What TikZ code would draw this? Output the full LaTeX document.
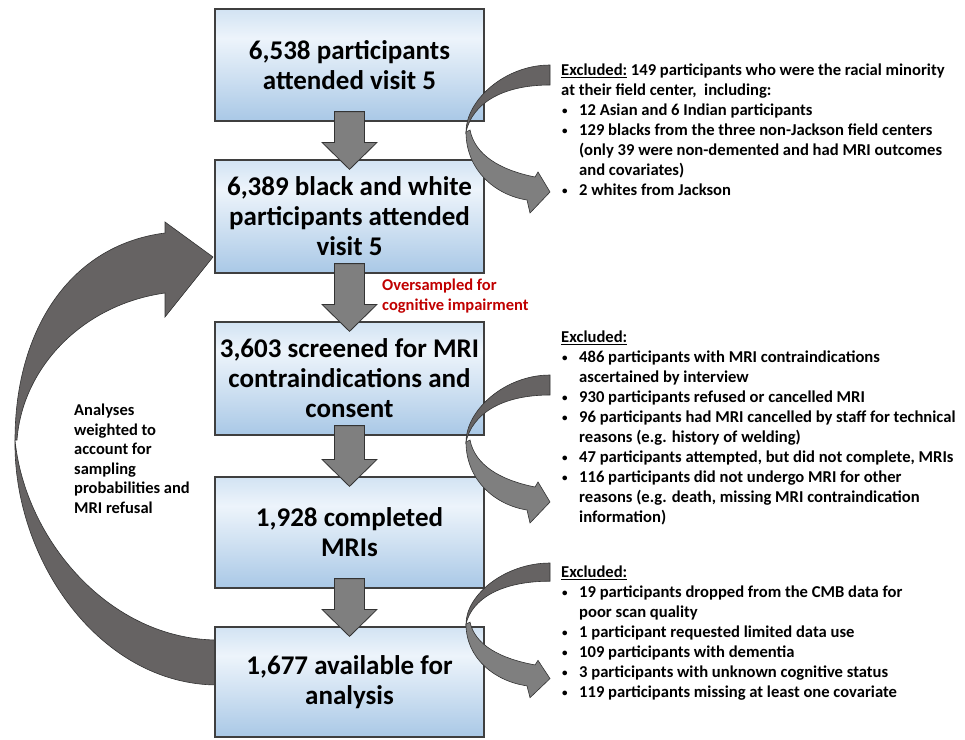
\documentclass[tikz,border=0pt]{standalone}
\usepackage{fontspec}
\setmainfont{Carlito}
\usetikzlibrary{calc}
\definecolor{boxline}{HTML}{3F3F3F}
\definecolor{boxtop}{HTML}{D2E3F3}
\definecolor{boxmid}{HTML}{EDF4FB}
\definecolor{boxbot}{HTML}{A9C8E6}
\definecolor{arrgray}{HTML}{7F7F7F}
\definecolor{arrdark}{HTML}{666363}
\definecolor{arrline}{HTML}{333333}
\definecolor{redtxt}{HTML}{C00000}
\pgfdeclareverticalshading{boxshade}{100bp}{color(0bp)=(boxbot); color(25bp)=(boxbot); color(45bp)=(boxbot!45!boxmid); color(62bp)=(boxmid); color(75bp)=(boxtop); color(100bp)=(boxtop)}
\newcommand\bul{\makebox[18pt][l]{\hspace{1pt}\raisebox{1pt}{\fontsize{11}{11}\selectfont\textbullet}}}
\newcommand\cont{\hspace*{18pt}}
\newcommand\blockarr[2]{%
  \filldraw[fill=arrgray,draw=arrline,line width=0.8pt]
    let \p1=($(#1.south)+(0,-10)$), \p2=($(#2.north)+(0,10)$) in
    (\x2-15pt,\y1) -- (\x2+15pt,\y1) -- (\x2+15pt,\y2+27pt) -- (\x2+27.5pt,\y2+27pt)
    -- (\x2,\y2) -- (\x2-27.5pt,\y2+27pt) -- (\x2-15pt,\y2+27pt) -- cycle;}
\tikzset{
  mainbox/.style={draw=boxline, line width=1.2pt, shading=boxshade,
    minimum width=269, minimum height=112, align=center, inner sep=0,
    font=\fontsize{27}{30}\selectfont\bfseries},
  note/.style={align=left, inner sep=0, anchor=north west,
    font=\fontsize{16.6}{20}\selectfont\bfseries},
  pics/exarrow/.style={code={
    \filldraw[fill=arrdark,draw=arrline,line width=0.6pt]
      (0,0) .. controls (-45,0) and (-84,35) .. (-84,67)
      .. controls (-78,40) and (-50,20) .. (0,20) -- cycle;
    \filldraw[fill=arrgray,draw=arrline,line width=0.6pt]
      (-84,67) .. controls (-84,105) and (-55,130) .. (-23,135)
      -- (-20,148) -- (0,127) -- (-12,107) -- (-15,112)
      .. controls (-50,105) and (-75,90) .. (-80,65) -- cycle;
  }}
}
\begin{document}
\begin{tikzpicture}[x=1pt,y=-1pt]
\useasboundingbox (0,0) rectangle (965,739);
% left feedback arrow
\filldraw[fill=arrdark,draw=arrline,line width=0.6pt]
  (218,685) .. controls (100,685) and (13,560) .. (15,440)
  .. controls (25,540) and (110,640) .. (218,640) -- cycle;
\filldraw[fill=arrdark,draw=arrline,line width=0.6pt]
  (15,440) .. controls (15,330) and (70,245) .. (165,233)
  -- (165,222) -- (213,257) -- (165,317) -- (165,293)
  .. controls (80,305) and (22,370) .. (17,440) -- cycle;
% boxes
\node[mainbox] (b1) at (349.5,65) {6,538 participants\\attended visit 5};
\node[mainbox,minimum height=113] (b2) at (349.5,216.5) {6,389 black and white\\participants attended\\visit 5};
\node[mainbox,minimum height=113] (b3) at (349.5,378.5) {3,603 screened for MRI\\contraindications and\\consent};
\node[mainbox,minimum height=111] (b4) at (349.5,532.5) {1,928 completed\\MRIs};
\node[mainbox,minimum height=110] (b5) at (349.5,682) {1,677 available for\\analysis};
% down arrows
\blockarr{b1}{b2}
\blockarr{b2}{b3}
\blockarr{b3}{b4}
\blockarr{b4}{b5}
% exclusion arrows
\pic at (550,65) {exarrow};
\pic at (550,375) {exarrow};
\pic[yscale=0.91] at (550,563) {exarrow};
% texts
\node[note] (exA) at (561,64) {\underline{Excluded:} 149 participants who were the racial minority\\
at their field center,\ \ including:\\
\bul 12 Asian and 6 Indian participants\\
\bul 129 blacks from the three non-Jackson field centers\\
\cont (only 39 were non-demented and had MRI outcomes\\
\cont and covariates)\\
\bul 2 whites from Jackson};
\node[note] (exB) at (561,331) {\underline{Excluded:}\\
\bul 486 participants with MRI contraindications\\
\cont ascertained by interview\\
\bul 930 participants refused or cancelled MRI\\
\bul 96 participants had MRI cancelled by staff for technical\\
\cont reasons (e.g. history of welding)\\
\bul 47 participants attempted, but did not complete, MRIs\\
\bul 116 participants did not undergo MRI for other\\
\cont reasons (e.g. death, missing MRI contraindication\\
\cont information)};
\node[note] (exC) at (561,566) {\underline{Excluded:}\\
\bul 19 participants dropped from the CMB data for\\
\cont poor scan quality\\
\bul 1 participant requested limited data use\\
\bul 109 participants with dementia\\
\bul 3 participants with unknown cognitive status\\
\bul 119 participants missing at least one covariate};
\node[note,text=redtxt,font=\fontsize{16.5}{20}\selectfont\bfseries] (over) at (382,279) {Oversampled for\\cognitive impairment};
\node[note,font=\fontsize{16.5}{19.5}\selectfont\bfseries] (wt) at (74,404) {Analyses\\weighted to\\account for\\sampling\\probabilities and\\MRI refusal};
\end{tikzpicture}
\end{document}
